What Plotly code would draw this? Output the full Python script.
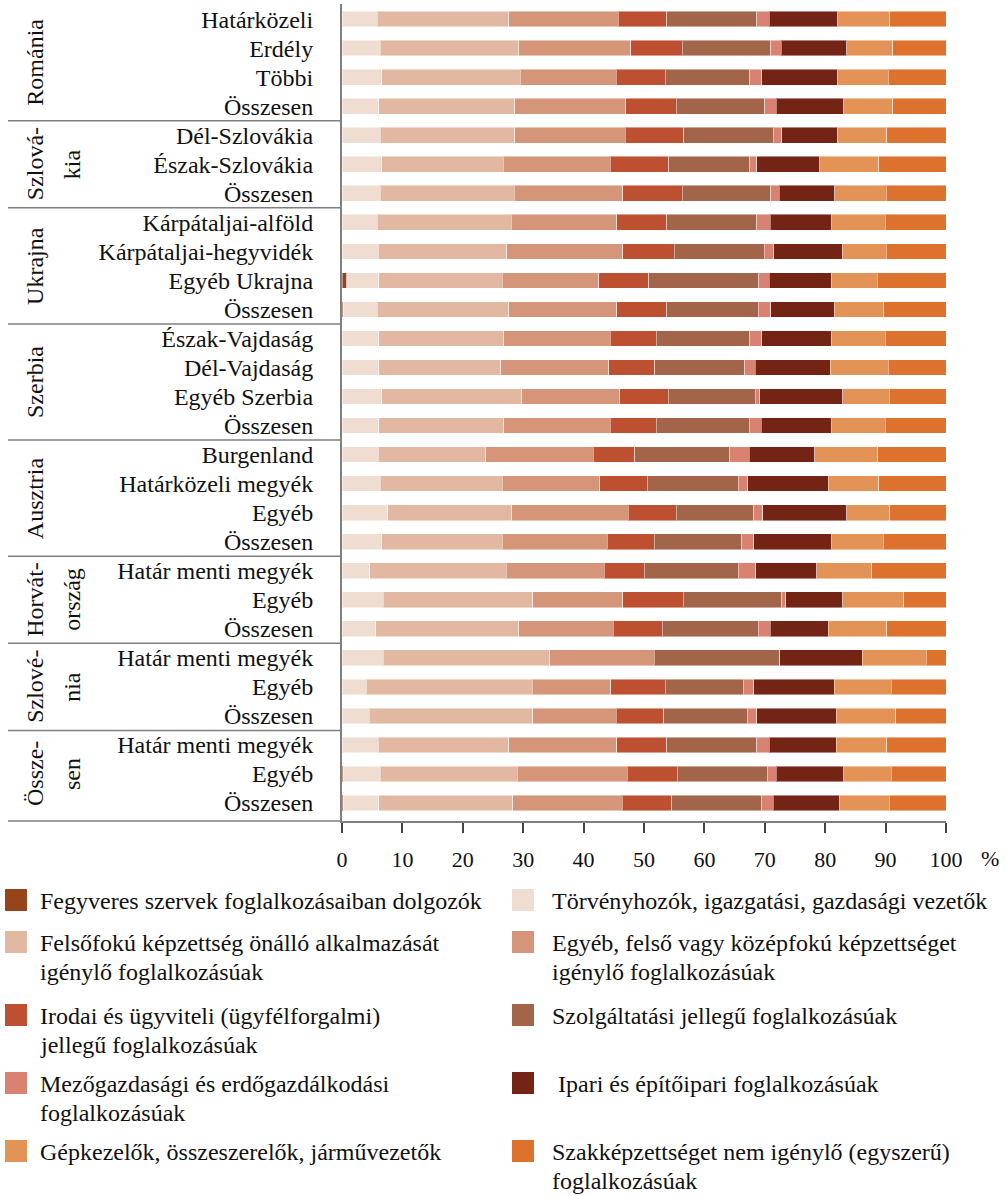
import plotly.graph_objects as go

# Row labels, top to bottom
rows = [
    "Határközeli", "Erdély", "Többi", "Összesen",
    "Dél-Szlovákia", "Észak-Szlovákia", "Összesen",
    "Kárpátaljai-alföld", "Kárpátaljai-hegyvidék", "Egyéb Ukrajna", "Összesen",
    "Észak-Vajdaság", "Dél-Vajdaság", "Egyéb Szerbia", "Összesen",
    "Burgenland", "Határközeli megyék", "Egyéb", "Összesen",
    "Határ menti megyék", "Egyéb", "Összesen",
    "Határ menti megyék", "Egyéb", "Összesen",
    "Határ menti megyék", "Egyéb", "Összesen",
]

# Country groups (label lines) and number of rows in each group
group_labels = [["Románia"], ["Szlová-", "kia"], ["Ukrajna"], ["Szerbia"],
                ["Ausztria"], ["Horvát-", "ország"], ["Szlové-", "nia"], ["Össze-", "sen"]]
group_sizes = [4, 3, 4, 4, 4, 3, 3, 3]

# Share of occupational groups, % (one value per row)
fegyveres = [0, 0, 0, 0, 0, 0, 0, 0, 0, 0.8, 0.2, 0, 0, 0, 0, 0, 0, 0, 0, 0, 0, 0, 0, 0, 0, 0, 0.2, 0.2]
torvenyhozok = [5.8, 6.3, 6.6, 6.1, 6.3, 6.6, 6.3, 5.8, 6.0, 5.3, 5.6, 6.1, 6.1, 6.6, 6.1,
                6.0, 6.3, 7.6, 6.6, 4.6, 6.8, 5.6, 6.8, 4.0, 4.5, 6.0, 6.1, 5.9]
felsofoku = [21.8, 23.0, 22.9, 22.5, 22.3, 20.1, 22.2, 22.2, 21.3, 20.4, 21.8, 20.7, 20.2, 23.2, 20.7,
             17.8, 20.2, 20.5, 19.9, 22.6, 24.8, 23.7, 27.6, 27.5, 27.1, 21.6, 22.7, 22.2]
egyeb_kozep = [18.1, 18.5, 15.9, 18.4, 18.3, 17.7, 18.0, 17.5, 19.2, 16.0, 17.9, 17.6, 17.9, 16.2, 17.6,
               17.8, 16.2, 19.3, 17.4, 16.2, 14.9, 15.6, 17.3, 13.0, 13.8, 17.9, 18.2, 18.1]
irodai = [8.1, 8.5, 8.1, 8.3, 9.7, 9.7, 9.8, 8.3, 8.5, 8.3, 8.3, 7.6, 7.6, 8.0, 7.6,
          6.9, 7.8, 7.9, 7.8, 6.6, 10.0, 8.1, 0, 9.0, 7.9, 8.3, 8.3, 8.2]
szolgaltatasi = [14.9, 14.7, 14.0, 14.7, 14.8, 13.4, 14.7, 14.9, 14.9, 18.2, 15.1, 15.5, 14.9, 14.4, 15.4,
                 15.7, 15.1, 12.9, 14.5, 15.6, 16.3, 15.9, 20.8, 12.9, 13.8, 14.9, 14.9, 14.9]
mezogazdasagi = [2.0, 1.7, 2.0, 1.9, 1.4, 1.2, 1.4, 2.2, 1.6, 1.7, 2.1, 2.0, 1.7, 0.8, 2.0,
                 3.2, 1.6, 1.5, 2.0, 2.9, 0.7, 2.0, 0, 1.8, 1.6, 2.0, 1.5, 1.9]
ipari = [11.4, 10.9, 12.5, 11.2, 9.2, 10.4, 9.2, 10.2, 11.3, 10.3, 10.5, 11.5, 12.4, 13.7, 11.7,
         10.9, 13.3, 13.9, 12.9, 10.1, 9.4, 9.6, 13.6, 13.3, 13.1, 11.1, 11.2, 10.9]
gepkezelok = [8.6, 7.6, 8.4, 8.1, 8.2, 9.8, 8.5, 8.8, 7.3, 7.6, 8.2, 8.9, 9.6, 7.7, 8.8,
              10.4, 8.4, 7.1, 8.5, 9.1, 10.1, 9.7, 10.6, 9.4, 9.9, 8.4, 7.8, 8.3]
szakkepzettseget = [9.3, 8.8, 9.6, 8.8, 9.8, 11.1, 9.9, 10.1, 9.9, 11.4, 10.3, 10.1, 9.6, 9.4, 10.1,
                    11.3, 11.1, 9.3, 10.4, 12.3, 7.0, 9.8, 3.3, 9.1, 8.3, 9.8, 9.1, 9.4]

series_names = [
    "Fegyveres szervek foglalkozásaiban dolgozók",
    "Törvényhozók, igazgatási, gazdasági vezetők",
    "Felsőfokú képzettség önálló alkalmazását<br>igénylő foglalkozásúak",
    "Egyéb, felső vagy középfokú képzettséget<br>igénylő foglalkozásúak",
    "Irodai és ügyviteli (ügyfélforgalmi)<br>jellegű foglalkozásúak",
    "Szolgáltatási jellegű foglalkozásúak",
    "Mezőgazdasági és erdőgazdálkodási<br>foglalkozásúak",
    " Ipari és építőipari foglalkozásúak",
    "Gépkezelők, összeszerelők, járművezetők",
    "Szakképzettséget nem igénylő (egyszerű)<br>foglalkozásúak",
]
series_values = [fegyveres, torvenyhozok, felsofoku, egyeb_kozep, irodai,
                 szolgaltatasi, mezogazdasagi, ipari, gepkezelok, szakkepzettseget]
colors = ["#96441A", "#F0DDD1", "#E2B8A2", "#D59579", "#BC5031",
          "#A3654A", "#D98272", "#732415", "#E39355", "#DC722E"]

x_ticks = list(range(0, 101, 10))

FONT = "Liberation Serif, DejaVu Serif"
W, H = 1006, 1196
ML, MR, MT, MB = 342, 60, 4, 375
PW, PH = W - ML - MR, H - MT - MB


def px_x(px):
    return (px - ML) / PW


def px_y(py):
    return (H - MB - py) / PH


fig = go.Figure()
ypos = list(range(len(rows)))
for name, vals, col in zip(series_names, series_values, colors):
    fig.add_trace(go.Bar(
        y=ypos, x=vals, orientation="h", name=name,
        marker=dict(color=col, line=dict(color="rgba(255,255,255,0.45)", width=1)),
        width=0.54, showlegend=False,
    ))

shapes = []
annotations = []

# Group separator lines and rotated country labels
start = 0
for lines, size in zip(group_labels, group_sizes):
    end = start + size
    center = (start + end - 1) / 2
    if end < len(rows):
        shapes.append(dict(type="line", xref="paper", yref="y",
                           x0=px_x(8), x1=0, y0=end - 0.5, y1=end - 0.5,
                           line=dict(color="#7f7f7f", width=1.5)))
    xs = [35] if len(lines) == 1 else [35, 72]
    for txt, xp in zip(lines, xs):
        annotations.append(dict(text=txt, xref="paper", yref="y", x=px_x(xp), y=center,
                                xanchor="center", yanchor="middle", textangle=-90,
                                showarrow=False, font=dict(family=FONT, size=24, color="#111")))
    start = end

# bottom closing line of the label column
shapes.append(dict(type="line", xref="paper", yref="paper", x0=px_x(8), x1=0, y0=0, y1=0,
                   line=dict(color="#7f7f7f", width=1.5)))

# percent sign after the axis tick labels
annotations.append(dict(text="%", xref="paper", yref="paper", x=px_x(990), y=px_y(858),
                        xanchor="center", yanchor="middle", showarrow=False,
                        font=dict(family=FONT, size=22, color="#111")))

# Two-column legend
row_centers = [900, 942, 1015, 1083, 1151]
for i, (name, col) in enumerate(zip(series_names, colors)):
    r, c = divmod(i, 2)
    sq_x0 = 5 if c == 0 else 512
    tx = 38 if c == 0 else 550
    cy = row_centers[r]
    shapes.append(dict(type="rect", xref="paper", yref="paper",
                       x0=px_x(sq_x0), x1=px_x(sq_x0 + 22), y0=px_y(cy - 11), y1=px_y(cy + 11),
                       fillcolor=col, line=dict(width=0)))
    for k, line in enumerate(name.split("<br>")):
        annotations.append(dict(text=line, xref="paper", yref="paper",
                                x=px_x(tx), y=px_y(cy + 1 + 29 * k), xanchor="left", yanchor="middle",
                                showarrow=False, font=dict(family=FONT, size=24, color="#111")))

fig.update_layout(
    barmode="stack",
    width=W, height=H,
    margin=dict(l=ML, r=MR, t=MT, b=MB, autoexpand=False),
    paper_bgcolor="white", plot_bgcolor="white",
    bargap=0.46,
    shapes=shapes, annotations=annotations,
    font=dict(family=FONT, color="#111"),
    xaxis=dict(range=[0, 100], tickvals=x_ticks, ticktext=[str(t) for t in x_ticks],
               ticks="outside", ticklen=10, tickwidth=1.5, tickcolor="#444",
               showline=True, linecolor="#7f7f7f", linewidth=2,
               showgrid=False, zeroline=False, ticklabelstandoff=8,
               tickfont=dict(family=FONT, size=22, color="#111")),
    yaxis=dict(range=[27.62, -0.52], tickvals=ypos, ticktext=rows,
               ticks="", showline=True, linecolor="#7f7f7f", linewidth=2,
               showgrid=False, zeroline=False, ticklabelstandoff=22,
               tickfont=dict(family=FONT, size=24, color="#111")),
)

fig.write_html("out.html")
